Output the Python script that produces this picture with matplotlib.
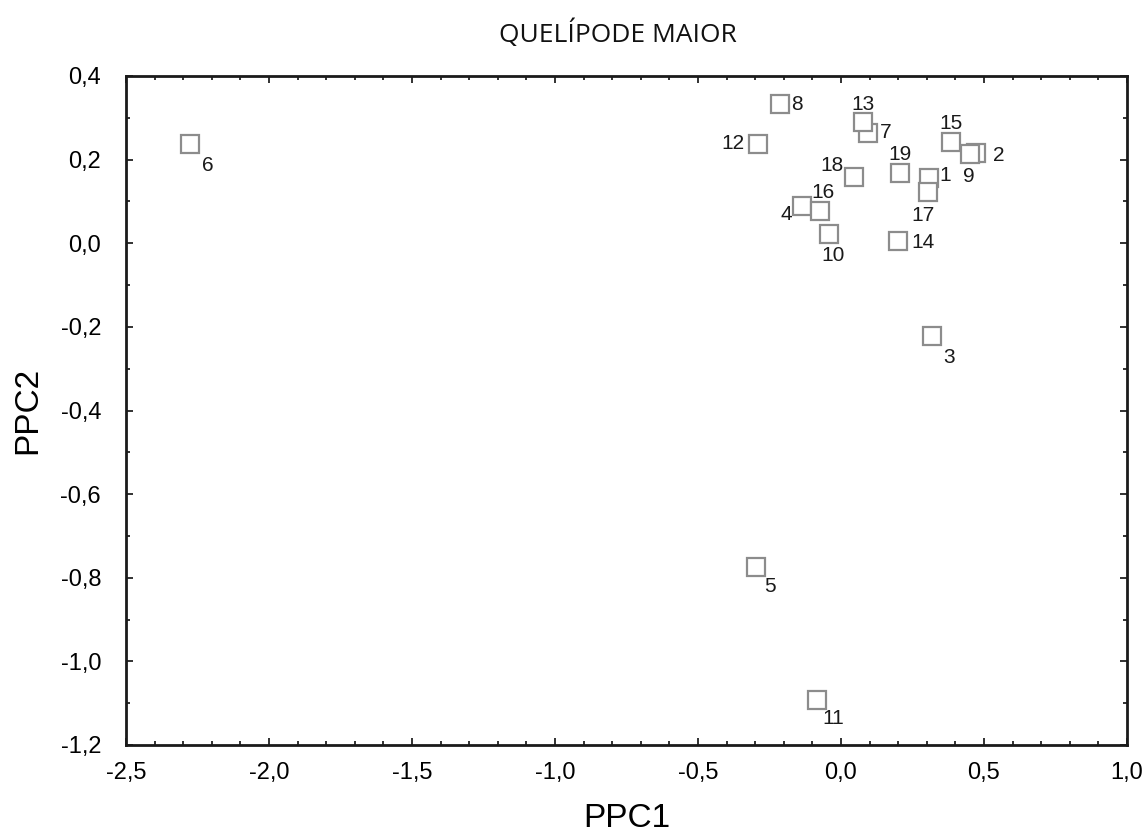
import numpy as np
import matplotlib.pyplot as plt
from matplotlib.ticker import MultipleLocator, FuncFormatter

# sample scores on the first two principal components
labels = ['1', '2', '3', '4', '5', '6', '7', '8', '9', '10',
          '11', '12', '13', '14', '15', '16', '17', '18', '19']
ppc1 = [0.309, 0.471, 0.317, -0.135, -0.297, -2.276, 0.096, -0.213, 0.452, -0.041,
        -0.085, -0.289, 0.078, 0.199, 0.385, -0.075, 0.303, 0.044, 0.205]
ppc2 = [0.157, 0.215, -0.222, 0.090, -0.774, 0.238, 0.264, 0.333, 0.213, 0.023,
        -1.093, 0.238, 0.289, 0.006, 0.242, 0.076, 0.123, 0.159, 0.169]

# where each label sits relative to its marker (pixels)
label_offsets = {
    '1': (16, 2), '2': (23, -2), '3': (17, -21), '4': (-16, -9), '5': (14, -20),
    '6': (18, -22), '7': (17, 0), '8': (17, 0), '9': (-1, -22), '10': (4, -22),
    '11': (17, -18), '12': (-25, 0), '13': (0, 18), '14': (25, -2), '15': (0, 19),
    '16': (3, 19), '17': (-5, -24), '18': (-22, 11), '19': (0, 18),
}

plt.rcParams['font.family'] = ['Liberation Sans', 'DejaVu Sans']

fig = plt.figure(figsize=(11.43, 8.39), dpi=100)
ax = fig.add_axes([126 / 1143, 1 - 745 / 839, (1127 - 126) / 1143, (745 - 76) / 839])

ax.plot(ppc1, ppc2, linestyle='none', marker='s', markersize=13,
        markerfacecolor='white', markeredgecolor='#8c8c8c', markeredgewidth=1.6)

for name, x, y in zip(labels, ppc1, ppc2):
    dx, dy = label_offsets[name]
    ax.annotate(name, (x, y), xytext=(dx, dy), textcoords='offset pixels',
                ha='center', va='center', fontsize=15, color='#1a1a1a')

ax.set_xlim(-2.5, 1.0)
ax.set_ylim(-1.2, 0.4)
ax.xaxis.set_major_locator(MultipleLocator(0.5))
ax.xaxis.set_minor_locator(MultipleLocator(0.1))
ax.yaxis.set_major_locator(MultipleLocator(0.2))
ax.yaxis.set_minor_locator(MultipleLocator(0.1))

comma = FuncFormatter(lambda v, pos: f'{v:.1f}'.replace('.', ',').replace('-0,0', '0,0'))
ax.xaxis.set_major_formatter(comma)
ax.yaxis.set_major_formatter(comma)

ax.tick_params(which='both', direction='in', top=True, right=True, width=1.3, color='#222222')
ax.tick_params(which='major', length=5, labelsize=17, pad=12)
ax.tick_params(which='minor', length=3)
ax.tick_params(axis='y', which='major', pad=18)
for s in ax.spines.values():
    s.set_linewidth(2)
    s.set_color('#1a1a1a')

ax.set_xlabel('PPC1', fontsize=24, labelpad=14)
ax.set_ylabel('PPC2', fontsize=24, labelpad=12)

fig.text(0.541, 0.96, 'QUELÍPODE MAIOR', ha='center', va='center', fontsize=19,
         family=['Open Sans', 'DejaVu Sans'], color='#111111')

fig.savefig('out.png', dpi=100, facecolor='white')
